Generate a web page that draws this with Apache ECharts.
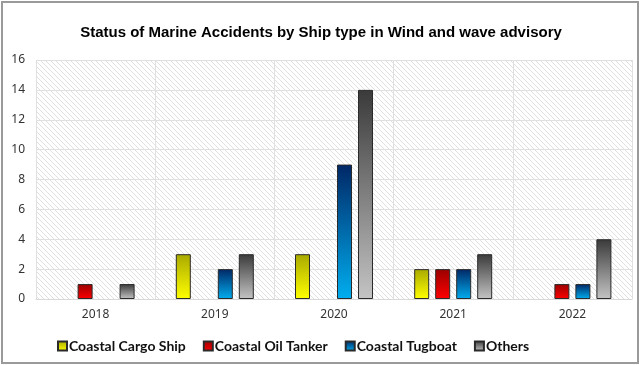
<!DOCTYPE html>
<html>
<head>
<meta charset="utf-8">
<script src="https://cdn.jsdelivr.net/npm/echarts@6/dist/echarts.min.js"></script>
<style>
  html, body { margin: 0; padding: 0; background: #fff; }
  #chart { width: 642px; height: 365px; }
</style>
</head>
<body>
<div id="chart"></div>
<script>
// Accident counts by year and ship type
const years = ['2018', '2019', '2020', '2021', '2022'];
const cargoShip = [0, 3, 3, 2, 0];
const oilTanker = [1, 0, 0, 2, 1];
const tugboat = [0, 2, 9, 2, 1];
const others = [1, 3, 14, 3, 4];
const yTicks = [0, 2, 4, 6, 8, 10, 12, 14, 16];

// Diagonal hatch texture for the plot background
function hatchPattern() {
  const s = 5;
  const c = document.createElement('canvas');
  c.width = s; c.height = s;
  const g = c.getContext('2d');
  g.fillStyle = '#ffffff';
  g.fillRect(0, 0, s, s);
  g.strokeStyle = '#e0e0e0';
  g.lineWidth = 1;
  g.beginPath();
  g.moveTo(-1, -1); g.lineTo(s + 1, s + 1);
  g.moveTo(-1, s - 1); g.lineTo(1, s + 1);
  g.moveTo(s - 1, -1); g.lineTo(s + 1, 1);
  g.stroke();
  return c;
}

function grad(top, bottom) {
  return new echarts.graphic.LinearGradient(0, 0, 0, 1, [
    { offset: 0, color: top },
    { offset: 1, color: bottom }
  ]);
}

function barSeries(name, data, top, bottom) {
  return {
    name: name,
    type: 'bar',
    data: data.map(v => (v === 0 ? null : v)),
    barWidth: 15,
    barGap: '40%',
    itemStyle: { color: grad(top, bottom), borderColor: '#2a2a2a', borderWidth: 1 }
  };
}

const chart = echarts.init(document.getElementById('chart'), null, { renderer: 'canvas' });
chart.setOption({
  animation: false,
  backgroundColor: '#ffffff',
  title: {
    text: 'Status of Marine Accidents by Ship type in Wind and wave advisory',
    left: 'center',
    top: 20,
    textStyle: { fontFamily: 'Liberation Sans, Arial, sans-serif', fontSize: 15, fontWeight: 'bold', color: '#000' }
  },
  graphic: [{
    type: 'rect',
    shape: { x: 2, y: 2, width: 636, height: 361 },
    style: { fill: 'none', stroke: '#9a9a9a', lineWidth: 2 },
    silent: true
  }],
  grid: {
    left: 36, right: 10, top: 60, bottom: 66,
    show: true,
    borderWidth: 0,
    backgroundColor: { image: hatchPattern(), repeat: 'repeat' }
  },
  legend: {
    bottom: 7,
    left: 52,
    itemWidth: 9,
    itemHeight: 9,
    itemGap: 17,
    icon: 'rect',
    textStyle: { fontFamily: 'Lato, sans-serif', fontSize: 14, fontWeight: 'bold', color: '#111', padding: [0, 0, 0, -3] },
    data: ['Coastal Cargo Ship', 'Coastal Oil Tanker', 'Coastal Tugboat', 'Others']
  },
  xAxis: {
    type: 'category',
    data: years,
    boundaryGap: true,
    axisLine: { show: true, lineStyle: { color: '#d9d9d9' } },
    axisTick: { show: false },
    splitLine: { show: true, lineStyle: { color: '#e0e0e0', width: 1 } },
    axisLabel: { color: '#333', fontSize: 12, margin: 10, fontFamily: 'Noto Sans, sans-serif' }
  },
  yAxis: {
    type: 'value',
    min: yTicks[0],
    max: yTicks[yTicks.length - 1],
    interval: 2,
    axisLine: { show: false },
    axisTick: { show: false },
    splitLine: { show: true, lineStyle: { color: '#e0e0e0', width: 1 } },
    axisLabel: { color: '#333', fontSize: 12, margin: 11, fontFamily: 'Noto Sans, sans-serif' }
  },
  series: [
    barSeries('Coastal Cargo Ship', cargoShip, '#a9a900', '#ffff00'),
    barSeries('Coastal Oil Tanker', oilTanker, '#9a0000', '#ff0000'),
    barSeries('Coastal Tugboat', tugboat, '#002766', '#00aeef'),
    barSeries('Others', others, '#3a3a3a', '#c4c4c4')
  ]
});
</script>
</body>
</html>
